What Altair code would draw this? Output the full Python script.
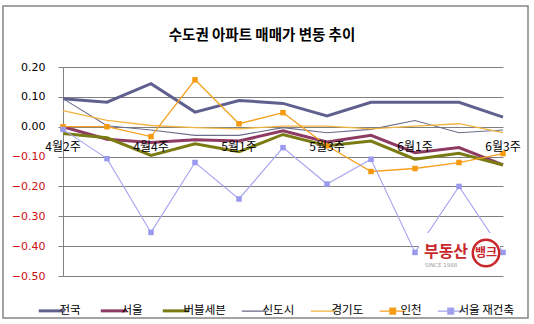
import altair as alt
import pandas as pd

weeks = ["4월2주", "4월3주", "4월4주", "4월5주", "5월1주", "5월2주",
         "5월3주", "5월4주", "6월1주", "6월2주", "6월3주"]
tick_weeks = ["4월2주", "4월4주", "5월1주", "5월3주", "6월1주", "6월3주"]
y_ticks = [0.2, 0.1, 0.0, -0.1, -0.2, -0.3, -0.4, -0.5]

series_names = ["전국", "서울", "버블세븐", "신도시", "경기도", "인천", "서울 재건축"]

v_national = [0.094, 0.082, 0.144, 0.049, 0.088, 0.078, 0.036, 0.082, 0.082, 0.082, 0.032]
v_seoul = [0.000, -0.042, -0.053, -0.044, -0.048, -0.014, -0.051, -0.029, -0.087, -0.070, -0.128]
v_bubble7 = [-0.023, -0.037, -0.096, -0.057, -0.084, -0.026, -0.064, -0.048, -0.109, -0.089, -0.128]
v_newtown = [0.094, 0.003, -0.011, -0.029, -0.029, -0.003, -0.020, -0.009, 0.021, -0.020, -0.011]
v_gyeonggi = [0.054, 0.021, 0.004, -0.003, -0.007, 0.002, 0.002, -0.007, 0.002, 0.010, -0.020]
v_incheon = [0.000, 0.000, -0.033, 0.157, 0.010, 0.047, -0.064, -0.150, -0.140, -0.120, -0.090]
v_rebuild = [-0.009, -0.107, -0.354, -0.120, -0.242, -0.070, -0.192, -0.109, -0.421, -0.200, -0.421]

all_values = [v_national, v_seoul, v_bubble7, v_newtown, v_gyeonggi, v_incheon, v_rebuild]

colors = ["#60608f", "#8e3b63", "#7b7b14", "#6c6c8c", "#f2b440", "#f5a020", "#a4a4f0"]
widths = [3, 3, 3, 1.1, 1.3, 1.3, 1.1]

rows = []
for name, vals in zip(series_names, all_values):
    for w, v in zip(weeks, vals):
        rows.append({"series": name, "week": w, "value": v})
df = pd.DataFrame(rows)

KR = "Noto Sans CJK KR"

xscale = alt.Scale(type="point", domain=weeks, padding=0)
yscale = alt.Scale(domain=[-0.5, 0.2], nice=False, zero=False)
cscale = alt.Scale(domain=series_names, range=colors)

yaxis = alt.Axis(
    values=y_ticks,
    format=".2f", title=None, labelOverlap=False,
    labelFont="DejaVu Sans", labelFontSize=11,
    labelColor=alt.condition("datum.value < 0", alt.value("#cc1010"), alt.value("#000000")),
    labelPadding=13, tickSize=5, tickColor="#808080",
    domainColor="#808080", gridColor="#808080", gridWidth=1, grid=True,
)

marker_path = "M-1,0H1M-0.22,-0.22H0.22V0.22H-0.22Z"
legend = alt.Legend(
    orient="none", legendX=-17, legendY=238, direction="horizontal",
    title=None, symbolSize=676,
    symbolType=alt.ExprRef(
        expr="(datum.value == '인천' || datum.value == '서울 재건축') ? '" + marker_path + "' : 'stroke'"),
    symbolFillColor=alt.ExprRef(
        expr="datum.value == '인천' ? '#f59a10' : (datum.value == '서울 재건축' ? '#9999ee' : 'transparent')"),
    symbolStrokeWidth=alt.ExprRef(
        expr="indexof(['전국','서울','버블세븐'], datum.value) >= 0 ? 3 : 1.3"),
    labelFont=KR, labelFontSize=11.5, labelColor="#000000", labelOffset=2,
    columnPadding=13, padding=0,
)

X = alt.X("week:O", scale=xscale, axis=None, sort=weeks)
Y = alt.Y("value:Q", scale=yscale, axis=yaxis)

layers = []
for name, w in zip(series_names, widths):
    layers.append(
        alt.Chart(df[df.series == name]).mark_line(strokeWidth=w).encode(
            x=X, y=Y,
            color=alt.Color("series:N", scale=cscale, legend=legend),
        )
    )

pts_incheon = alt.Chart(df[df.series == "인천"]).mark_point(
    shape="square", filled=True, size=30, opacity=1, color="#f59a10"
).encode(x=X, y=Y)

pts_rebuild = alt.Chart(df[df.series == "서울 재건축"]).mark_point(
    shape="square", filled=True, size=30, opacity=1, color="#9999ee"
).encode(x=X, y=Y)

cat_labels = alt.Chart(pd.DataFrame({"week": tick_weeks})).mark_text(
    font=KR, fontSize=12, color="#000000", baseline="middle", dy=20
).encode(x=X, y=alt.YDatum(0, scale=yscale, axis=yaxis), text="week:N")

one = pd.DataFrame({"a": [0]})

frame = alt.Chart(one).mark_rect(fill=None, stroke="#858585", strokeWidth=1.5).encode(
    x=alt.value(-60), x2=alt.value(465), y=alt.value(-61), y2=alt.value(251))

title = alt.Chart(one).mark_text(
    text="수도권 아파트 매매가 변동 추이", font=KR, fontSize=14.5, fontWeight="bold",
    color="#000000", align="center", baseline="middle"
).encode(x=alt.value(199), y=alt.value(-31))

logo_bg = alt.Chart(one).mark_rect(fill="white").encode(
    x=alt.value(356), x2=alt.value(437), y=alt.value(166), y2=alt.value(204))
logo_txt = alt.Chart(one).mark_text(
    text="부동산", font=KR, fontSize=16, fontWeight="bold", color="#c8282d",
    align="center", baseline="middle"
).encode(x=alt.value(383), y=alt.value(185))
logo_circle = alt.Chart(one).mark_point(
    shape="circle", size=700, filled=False, stroke="#c8282d", strokeWidth=2.5, opacity=1
).encode(x=alt.value(423), y=alt.value(186))
logo_bank = alt.Chart(one).mark_text(
    text="뱅크", font=KR, fontSize=12, fontWeight="bold", color="#c8282d",
    align="center", baseline="middle"
).encode(x=alt.value(423), y=alt.value(186))
logo_since = alt.Chart(one).mark_text(
    text="SINCE 1988", font="DejaVu Sans", fontSize=5.5, color="#a0a0a0",
    align="center", baseline="middle"
).encode(x=alt.value(378), y=alt.value(198))

chart = alt.layer(
    frame, title, *layers, pts_incheon, pts_rebuild, cat_labels,
    logo_bg, logo_txt, logo_circle, logo_bank, logo_since
).properties(
    width=440, height=209,
    autosize=alt.AutoSizeParams(type="none"),
    padding={"left": 63, "top": 67, "right": 31, "bottom": 48},
    background="white",
).configure_view(stroke=None)

chart.save("out.html", embed_options={"renderer": "svg", "actions": False})
